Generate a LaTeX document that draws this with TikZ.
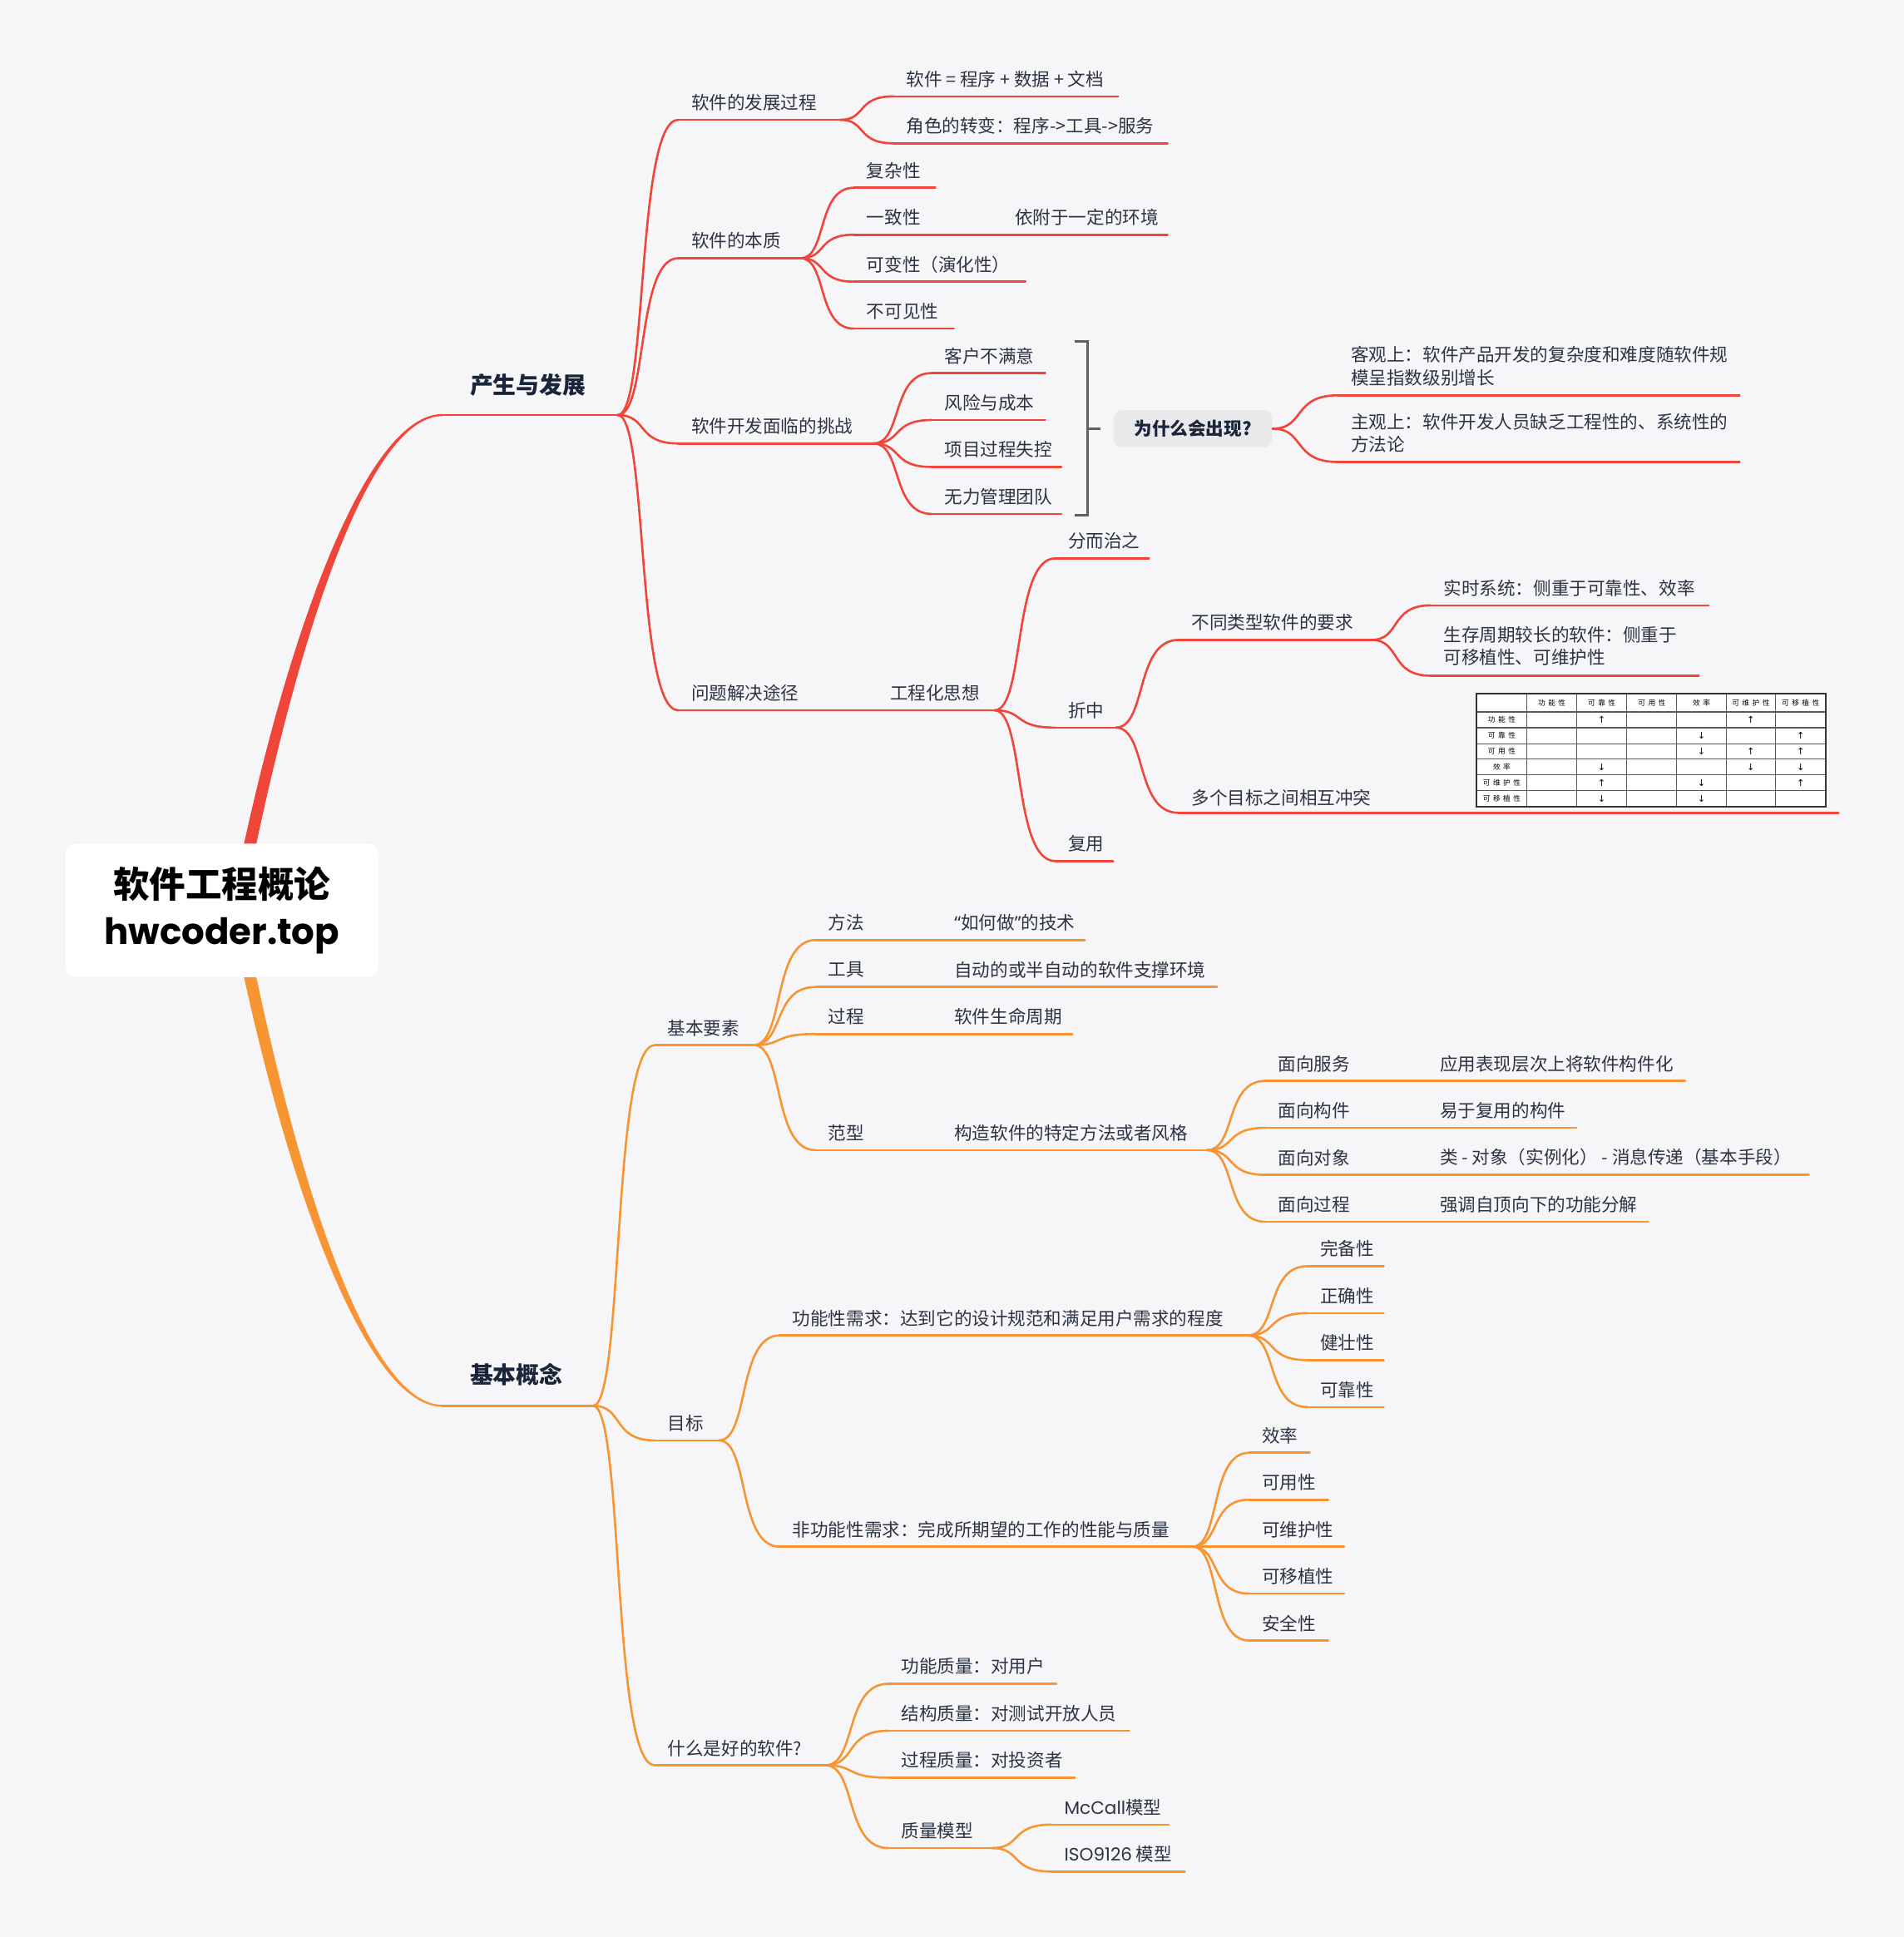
\documentclass[tikz,border=0pt]{standalone}
\usepackage{fontspec}
\setmainfont{Noto Sans CJK SC}
\newfontfamily\latf{Poppins}
\newfontfamily\qf{Noto Sans}
\newfontfamily\arrf{DejaVu Sans}
\newfontfamily\tabf[LetterSpace=40]{Noto Sans CJK SC}
\usetikzlibrary{calc}
\definecolor{bgc}{RGB}{246,246,249}
\definecolor{redc}{RGB}{240,70,58}
\definecolor{orgc}{RGB}{247,149,51}
\definecolor{txtc}{RGB}{44,52,68}
\definecolor{hdc}{RGB}{26,37,58}
\definecolor{brc}{RGB}{95,95,95}
\definecolor{sumbg}{RGB}{233,233,236}
\definecolor{tabline}{RGB}{90,90,90}
\tikzset{
  txt/.style={anchor=west, inner sep=0pt, text=txtc, align=left, font=\fontsize{6.2pt}{7.9pt}\selectfont},
  l1txt/.style={anchor=west, inner sep=0pt, text=hdc, font=\fontsize{8pt}{10pt}\selectfont\bfseries},
  rl/.style={draw=redc, line width=0.75pt, line cap=round},
  ol/.style={draw=orgc, line width=0.75pt, line cap=round},
  brk/.style={draw=brc, line width=0.9pt},
  sumbox/.style={fill=sumbg, rounded corners=0.1cm, minimum width=1.92cm, minimum height=0.45cm, inner sep=0pt, text=hdc, font=\fontsize{6.2pt}{8pt}\selectfont\bfseries},
  rootbox/.style={fill=white, rounded corners=0.12cm, minimum width=3.795cm, minimum height=1.62cm, inner sep=0pt, align=center, text=black, font=\fontsize{12.5pt}{16.2pt}\selectfont\bfseries},
  tabt/.style={inner sep=0pt, text=black, font=\tabf\fontsize{2.5pt}{3pt}\selectfont},
  tabarr/.style={inner sep=0pt, text=black, font=\arrf\fontsize{3.2pt}{4pt}\selectfont},
  tabl/.style={draw=tabline, line width=0.3pt},
  tabo/.style={draw=black!80, line width=0.5pt}
}
% topic: [text y offset]{style}{name}{x start}{x end}{y}{text}
\newcommand\tp[7][-14]{%
  \coordinate (#3-s) at (#4,#6);
  \coordinate (#3-e) at (#5,#6);
  \draw[#2] (#3-s) -- (#3-e);
  \node[txt] (#3) at ([shift={(10,#1)}]#3-s) {#7};
}
\newcommand\conn[3]{\draw[#1] let \p1=(#2), \p2=(#3) in (\p1) .. controls ({\x1+0.5*(\x2-\x1)},\y1) and ({\x1+0.3*(\x2-\x1)},\y2) .. (\p2);}
\begin{document}
\begin{tikzpicture}[x=0.015cm, y=-0.015cm]
\fill[bgc] (0,0) rectangle (1541,1568);
\useasboundingbox (0,0) rectangle (1541,1568);

% trunks
\fill[redc] (196,690) .. controls (238,495) and (300,335.2) .. (358,335.2) -- (358,336.8) .. controls (302,336.8) and (247,495) .. (206,690) -- cycle;
\fill[orgc] (196,784) .. controls (238,979) and (300,1138.8) .. (358,1138.8) -- (358,1137.2) .. controls (302,1137.2) and (247,979) .. (206,784) -- cycle;

\node[rootbox] (root) at (179.5,737) {软件工程概论\\{\latf\bfseries hwcoder.top}};

% ===== red branch =====
\coordinate (p1-s) at (358,336); \coordinate (p1-e) at (500,336);
\draw[rl] (p1-s) -- (p1-e);
\node[l1txt] (p1) at (380,312) {产生与发展};

\tp{rl}{a1}{549}{680}{97}{软件的发展过程}
\tp{rl}{a11}{723}{905}{78}{软件 = 程序 + 数据 + 文档}
\tp{rl}{a12}{723}{945}{116}{角色的转变：程序->工具->服务}
\tp{rl}{a2}{549}{648}{209}{软件的本质}
\tp{rl}{a21}{691}{757}{152}{复杂性}
\tp{rl}{a22}{691}{757}{190}{一致性}
\tp{rl}{a22b}{811}{945}{190}{依附于一定的环境}
\tp{rl}{a23}{691}{830}{228}{可变性（演化性）}
\tp{rl}{a24}{691}{772}{266}{不可见性}
\tp{rl}{a3}{549}{707}{359}{软件开发面临的挑战}
\tp{rl}{a31}{754}{846}{302}{客户不满意}
\tp{rl}{a32}{754}{846}{340}{风险与成本}
\tp{rl}{a33}{754}{859}{378}{项目过程失控}
\tp{rl}{a34}{754}{859}{416}{无力管理团队}
\tp[-23.5]{rl}{w1}{1083}{1408}{320}{客观上：软件产品开发的复杂度和难度随软件规\\模呈指数级别增长}
\tp[-23.5]{rl}{w2}{1083}{1408}{374}{主观上：软件开发人员缺乏工程性的、系统性的\\方法论}
\tp{rl}{a4}{549}{655}{575}{问题解决途径}
\tp{rl}{a4b}{710}{805}{575}{工程化思想}
\tp{rl}{e1}{854}{930}{452}{分而治之}
\tp{rl}{e2}{854}{903}{589}{折中}
\tp{rl}{e3}{854}{901}{697}{复用}
\tp{rl}{e21}{954}{1110}{518}{不同类型软件的要求}
\tp{rl}{e211}{1158}{1383}{490}{实时系统：侧重于可靠性、效率}
\tp[-24]{rl}{e212}{1158}{1375}{547}{生存周期较长的软件：侧重于\\可移植性、可维护性}
\tp[-12]{rl}{e22}{954}{1488}{658}{多个目标之间相互冲突}

% summary bracket
\coordinate (br1) at (870,276.5); \coordinate (br2) at (880,276.5);
\coordinate (br3) at (880,417); \coordinate (br4) at (870,417);
\coordinate (brm) at (880,347); \coordinate (brn) at (890.5,347);
\draw[brk] (br1) -- (br2) -- (br3) -- (br4);
\draw[brk] (brm) -- (brn);
\node[sumbox] (w) at (965.5,347) {为什么会出现?};

\conn{rl}{p1-e}{a1-s}
\conn{rl}{p1-e}{a2-s}
\conn{rl}{p1-e}{a3-s}
\conn{rl}{p1-e}{a4-s}
\conn{rl}{a1-e}{a11-s}
\conn{rl}{a1-e}{a12-s}
\conn{rl}{a2-e}{a21-s}
\conn{rl}{a2-e}{a22-s}
\conn{rl}{a2-e}{a23-s}
\conn{rl}{a2-e}{a24-s}
\draw[rl] (a22-e) -- (a22b-s);
\conn{rl}{a3-e}{a31-s}
\conn{rl}{a3-e}{a32-s}
\conn{rl}{a3-e}{a33-s}
\conn{rl}{a3-e}{a34-s}
\conn{rl}{w.east}{w1-s}
\conn{rl}{w.east}{w2-s}
\draw[rl] (a4-e) -- (a4b-s);
\conn{rl}{a4b-e}{e1-s}
\conn{rl}{a4b-e}{e2-s}
\conn{rl}{a4b-e}{e3-s}
\conn{rl}{e2-e}{e21-s}
\conn{rl}{e2-e}{e22-s}
\conn{rl}{e21-e}{e211-s}
\conn{rl}{e21-e}{e212-s}

% table
\fill[white] (1194,560.6) rectangle (1479,654.8);
\foreach \cx in {1236,1276,1316.8,1357.2,1397.1,1437.1} {\draw[tabl] (\cx,561.5) -- (\cx,653);}
\foreach \ry in {576.3,589.1,601.9,614.4,627.2,640} {\draw[tabl] (1195,\ry) -- (1477.7,\ry);}
\draw[tabo] (1195,561.5) rectangle (1477.7,653);
\foreach \t/\cx/\ry [count=\i] in {功能性/1256/582.7, 可靠性/1296.4/595.5, 可用性/1337/608.2, 效率/1377.2/620.8, 可维护性/1417.1/633.6, 可移植性/1457.4/646.5} {
  \node[tabt] (th\i) at (\cx,568.9) {\t};
  \node[tabt] (tr\i) at (1215.5,\ry) {\t};
}
\foreach \cx/\ry/\a [count=\i] in {1296.4/582.7/↑, 1417.1/582.7/↑,
  1377.2/595.5/↓, 1457.4/595.5/↑,
  1377.2/608.2/↓, 1417.1/608.2/↑, 1457.4/608.2/↑,
  1296.4/620.8/↓, 1417.1/620.8/↓, 1457.4/620.8/↓,
  1296.4/633.6/↑, 1377.2/633.6/↓, 1457.4/633.6/↑,
  1296.4/646.5/↓, 1377.2/646.5/↓} {
  \node[tabarr] (ar\i) at (\cx,\ry) {\a};
}

% ===== orange branch =====
\coordinate (b1-s) at (358,1138); \coordinate (b1-e) at (480,1138);
\draw[ol] (b1-s) -- (b1-e);
\node[l1txt] (b1) at (380,1113) {基本概念};

\tp{ol}{b2}{530}{610}{846}{基本要素}
\tp{ol}{b21}{660}{712}{761}{方法}
\tp{ol}{b21b}{762}{878}{761}{{\qf “}如何做{\qf ”}的技术}
\tp{ol}{b22}{660}{712}{799}{工具}
\tp{ol}{b22b}{762}{985}{799}{自动的或半自动的软件支撑环境}
\tp{ol}{b23}{660}{712}{837}{过程}
\tp{ol}{b23b}{762}{868}{837}{软件生命周期}
\tp{ol}{b24}{660}{712}{931}{范型}
\tp{ol}{b24b}{762}{977}{931}{构造软件的特定方法或者风格}
\tp{ol}{c1}{1024}{1101}{875}{面向服务}
\tp{ol}{c1b}{1155}{1364}{875}{应用表现层次上将软件构件化}
\tp{ol}{c2}{1024}{1101}{913}{面向构件}
\tp{ol}{c2b}{1155}{1276}{913}{易于复用的构件}
\tp{ol}{c3}{1024}{1101}{951}{面向对象}
\tp{ol}{c3b}{1155}{1464}{951}{类 - 对象（实例化） - 消息传递（基本手段）}
\tp{ol}{c4}{1024}{1101}{989}{面向过程}
\tp{ol}{c4b}{1155}{1334}{989}{强调自顶向下的功能分解}
\tp{ol}{b3}{530}{582}{1166}{目标}
\tp{ol}{f1}{631}{1010}{1081}{功能性需求：达到它的设计规范和满足用户需求的程度}
\tp{ol}{f11}{1058}{1120}{1025}{完备性}
\tp{ol}{f12}{1058}{1120}{1063}{正确性}
\tp{ol}{f13}{1058}{1120}{1101}{健壮性}
\tp{ol}{f14}{1058}{1120}{1139}{可靠性}
\tp{ol}{f2}{631}{965}{1252}{非功能性需求：完成所期望的工作的性能与质量}
\tp{ol}{g1}{1011}{1060}{1176}{效率}
\tp{ol}{g2}{1011}{1075}{1214}{可用性}
\tp{ol}{g3}{1011}{1088}{1252}{可维护性}
\tp{ol}{g4}{1011}{1088}{1290}{可移植性}
\tp{ol}{g5}{1011}{1075}{1328}{安全性}
\tp{ol}{b4}{530}{668}{1429}{什么是好的软件?}
\tp{ol}{h1}{719}{855}{1363}{功能质量：对用户}
\tp{ol}{h2}{719}{914}{1401}{结构质量：对测试开放人员}
\tp{ol}{h3}{719}{870}{1439}{过程质量：对投资者}
\tp{ol}{h4}{719}{803}{1496}{质量模型}
\tp{ol}{h41}{851}{946}{1477}{{\latf McCall}模型}
\tp{ol}{h42}{851}{959}{1515}{{\latf ISO9126} 模型}

\conn{ol}{b1-e}{b2-s}
\conn{ol}{b1-e}{b3-s}
\conn{ol}{b1-e}{b4-s}
\conn{ol}{b2-e}{b21-s}
\conn{ol}{b2-e}{b22-s}
\conn{ol}{b2-e}{b23-s}
\conn{ol}{b2-e}{b24-s}
\draw[ol] (b21-e) -- (b21b-s);
\draw[ol] (b22-e) -- (b22b-s);
\draw[ol] (b23-e) -- (b23b-s);
\draw[ol] (b24-e) -- (b24b-s);
\conn{ol}{b24b-e}{c1-s}
\conn{ol}{b24b-e}{c2-s}
\conn{ol}{b24b-e}{c3-s}
\conn{ol}{b24b-e}{c4-s}
\draw[ol] (c1-e) -- (c1b-s);
\draw[ol] (c2-e) -- (c2b-s);
\draw[ol] (c3-e) -- (c3b-s);
\draw[ol] (c4-e) -- (c4b-s);
\conn{ol}{b3-e}{f1-s}
\conn{ol}{b3-e}{f2-s}
\conn{ol}{f1-e}{f11-s}
\conn{ol}{f1-e}{f12-s}
\conn{ol}{f1-e}{f13-s}
\conn{ol}{f1-e}{f14-s}
\conn{ol}{f2-e}{g1-s}
\conn{ol}{f2-e}{g2-s}
\conn{ol}{f2-e}{g3-s}
\conn{ol}{f2-e}{g4-s}
\conn{ol}{f2-e}{g5-s}
\conn{ol}{b4-e}{h1-s}
\conn{ol}{b4-e}{h2-s}
\conn{ol}{b4-e}{h3-s}
\conn{ol}{b4-e}{h4-s}
\conn{ol}{h4-e}{h41-s}
\conn{ol}{h4-e}{h42-s}
\end{tikzpicture}
\end{document}
